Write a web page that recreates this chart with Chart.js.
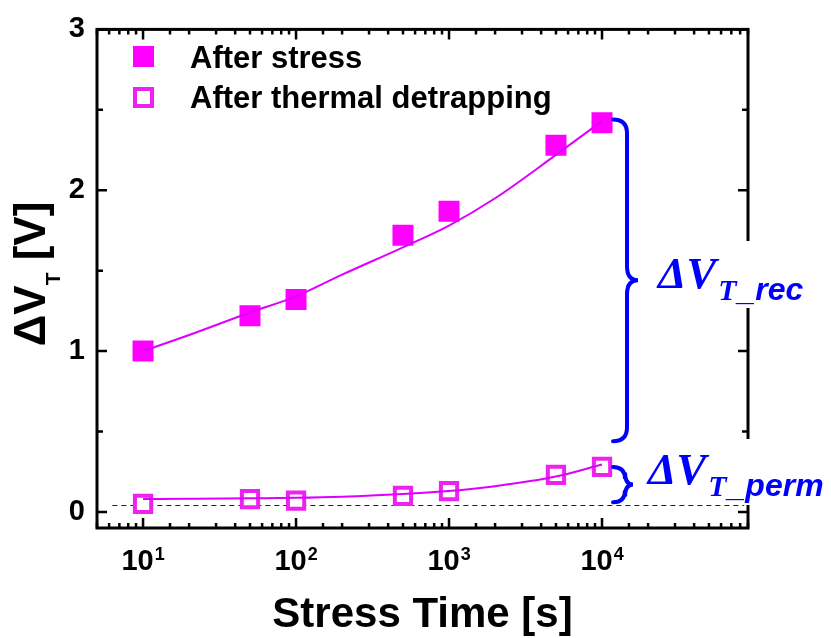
<!DOCTYPE html>
<html>
<head>
<meta charset="utf-8">
<script src="https://cdn.jsdelivr.net/npm/chart.js@4.4.0/dist/chart.umd.min.js"></script>
<style>
  html, body { margin: 0; padding: 0; background: #fff; }
  #wrap { width: 831px; height: 638px; }
</style>
</head>
<body>
<div id="wrap"><canvas id="grafico" width="831" height="638"></canvas></div>
<script>
// valores
const stressTime = [10, 50, 100, 500, 1000, 5000, 10000];
const afterStress = [1.00, 1.22, 1.32, 1.72, 1.87, 2.28, 2.42];
const afterDetrap = [0.05, 0.08, 0.07, 0.10, 0.13, 0.23, 0.28];

// curvas de ajuste (leídas a ojo)
const fitTime = [10, 20, 50, 100, 200, 500, 1000, 2000, 5000, 10000];
const fitStress = [1.00, 1.10, 1.24, 1.34, 1.475, 1.645, 1.78, 1.95, 2.22, 2.43];
const fitPerm = [0.08, 0.082, 0.085, 0.088, 0.095, 0.112, 0.13, 0.16, 0.22, 0.295];

// línea de referencia discontinua
const baseTime = [6.3, 85000];
const baseLevel = [0.04, 0.04];

const xTickValues = [10, 100, 1000, 10000];
const xTickExp = ['1', '2', '3', '4'];
const yTickValues = [0, 0.5, 1, 1.5, 2, 2.5, 3];
const legendLabels = ['After stress', 'After thermal detrapping'];

// llaves: [arriba, abajo] en voltios
const recSpan = [2.44, 0.44];
const permSpan = [0.28, 0.06];

const SANS = '"Liberation Sans", Arial, sans-serif';
const SERIF = '"Liberation Serif", "Times New Roman", serif';
const MAGENTA = '#FF00FF';
const OPEN = '#EE22EE';
const FIT = '#DD00FF';
const BLUE = '#0000FF';

const pts = (xs, ys) => xs.map((v, i) => ({ x: v, y: ys[i] }));

function brace(ctx, x0, yTop, yBot, depth, tip) {
  const xs = x0 + depth, ym = (yTop + yBot) / 2, r = depth;
  ctx.beginPath();
  ctx.moveTo(x0, yTop);
  ctx.quadraticCurveTo(xs, yTop, xs, yTop + r);
  ctx.lineTo(xs, ym - r);
  ctx.quadraticCurveTo(xs, ym, xs + tip, ym);
  ctx.quadraticCurveTo(xs, ym, xs, ym + r);
  ctx.lineTo(xs, yBot - r);
  ctx.quadraticCurveTo(xs, yBot, x0, yBot);
  ctx.stroke();
}

function deltaLabel(ctx, x, base, suffix) {
  ctx.fillStyle = BLUE;
  ctx.textBaseline = 'alphabetic';
  ctx.textAlign = 'left';
  ctx.font = 'italic bold 45px ' + SERIF;
  ctx.fillText('ΔV', x, base);
  x += ctx.measureText('ΔV').width + 2;
  ctx.font = 'italic bold 30px ' + SERIF;
  ctx.fillText('T', x, base + 12);
  x += ctx.measureText('T').width + 1;
  ctx.font = 'italic bold 32px ' + SANS;
  ctx.fillText(suffix, x, base + 12);
}

const decor = {
  id: 'decor',
  afterDraw(chart) {
    const { ctx, chartArea: a, scales: { x, y } } = chart;
    ctx.save();

    // marco
    ctx.strokeStyle = '#000';
    ctx.lineWidth = 3;
    ctx.strokeRect(a.left, a.top, a.right - a.left, a.bottom - a.top);

    // marcas del eje x (hacia dentro, abajo y arriba)
    ctx.lineWidth = 2.5;
    ctx.beginPath();
    x.ticks.forEach(t => {
      const px = x.getPixelForValue(t.value);
      const len = xTickValues.includes(t.value) ? 10 : 5;
      ctx.moveTo(px, a.bottom); ctx.lineTo(px, a.bottom - len);
      ctx.moveTo(px, a.top); ctx.lineTo(px, a.top + len);
    });
    // marcas del eje y
    y.ticks.forEach(t => {
      const py = y.getPixelForValue(t.value);
      const len = Number.isInteger(t.value) ? 10 : 6;
      ctx.moveTo(a.left, py); ctx.lineTo(a.left + len, py);
      ctx.moveTo(a.right, py); ctx.lineTo(a.right - len, py);
    });
    ctx.stroke();

    // etiquetas 10^n
    ctx.fillStyle = '#000';
    ctx.textBaseline = 'alphabetic';
    ctx.textAlign = 'left';
    xTickValues.forEach((v, i) => {
      const px = x.getPixelForValue(v);
      ctx.font = 'bold 29px ' + SANS;
      const w1 = ctx.measureText('10').width;
      ctx.font = 'bold 18px ' + SANS;
      const w2 = ctx.measureText(xTickExp[i]).width;
      const x0 = px - (w1 + w2 + 1) / 2;
      ctx.font = 'bold 29px ' + SANS;
      ctx.fillText('10', x0, 570);
      ctx.font = 'bold 18px ' + SANS;
      ctx.fillText(xTickExp[i], x0 + w1 + 1, 560);
    });

    // título x
    ctx.font = 'bold 42px ' + SANS;
    ctx.textAlign = 'center';
    ctx.fillText('Stress Time [s]', (a.left + a.right) / 2, 627);

    // título y (girado)
    ctx.save();
    ctx.translate(45, 274);
    ctx.rotate(-Math.PI / 2);
    ctx.textAlign = 'left';
    ctx.font = 'bold 44px ' + SANS;
    const wDV = ctx.measureText('ΔV').width;
    const wRest = ctx.measureText(' [V]').width;
    ctx.font = 'bold 21px ' + SANS;
    const wT = ctx.measureText('T').width;
    let cx = -(wDV + wT + wRest) / 2;
    ctx.font = 'bold 44px ' + SANS;
    ctx.fillText('ΔV', cx, 0);
    cx += wDV;
    ctx.font = 'bold 21px ' + SANS;
    ctx.fillText('T', cx, 15);
    cx += wT;
    ctx.font = 'bold 44px ' + SANS;
    ctx.fillText(' [V]', cx, 0);
    ctx.restore();

    // leyenda
    const ds = chart.data.datasets;
    ctx.fillStyle = ds[2].backgroundColor;
    ctx.fillRect(133, 46, 21, 21);
    ctx.fillStyle = '#fff';
    ctx.fillRect(135, 89, 17, 17);
    ctx.strokeStyle = ds[3].borderColor;
    ctx.lineWidth = 4;
    ctx.strokeRect(135, 89, 17, 17);
    ctx.fillStyle = '#000';
    ctx.font = 'bold 31px ' + SANS;
    ctx.textAlign = 'left';
    ctx.fillText(legendLabels[0], 190, 68);
    ctx.fillText(legendLabels[1], 190, 108);

    // llaves y anotaciones
    const bx = x.getPixelForValue(10000) + 11;
    ctx.strokeStyle = BLUE;
    ctx.lineWidth = 4;
    ctx.lineCap = 'round';
    const r0 = y.getPixelForValue(recSpan[0]), r1 = y.getPixelForValue(recSpan[1]);
    brace(ctx, bx, r0, r1, 14, 11);
    const p0 = y.getPixelForValue(permSpan[0]), p1 = y.getPixelForValue(permSpan[1]);
    brace(ctx, bx, p0, p1, 12, 8);

    ctx.fillStyle = '#fff';
    ctx.fillRect(650, 241, 175, 67);
    ctx.fillRect(640, 439, 191, 66);
    deltaLabel(ctx, 658, (r0 + r1) / 2 + 8, '_rec');
    deltaLabel(ctx, 648, (p0 + p1) / 2 - 1, '_perm');

    ctx.restore();
  }
};

new Chart(document.getElementById('grafico'), {
  type: 'scatter',
  data: {
    datasets: [
      {
        label: 'fit stress',
        data: pts(fitTime, fitStress),
        showLine: true,
        borderColor: FIT,
        borderWidth: 2,
        pointRadius: 0,
        cubicInterpolationMode: 'monotone',
        fill: false
      },
      {
        label: 'fit perm',
        data: pts(fitTime, fitPerm),
        showLine: true,
        borderColor: FIT,
        borderWidth: 2,
        pointRadius: 0,
        cubicInterpolationMode: 'monotone',
        fill: false
      },
      {
        label: legendLabels[0],
        data: pts(stressTime, afterStress),
        pointStyle: 'rect',
        pointRadius: 14.85,
        backgroundColor: MAGENTA,
        borderWidth: 0
      },
      {
        label: legendLabels[1],
        data: pts(stressTime, afterDetrap),
        pointStyle: 'rect',
        pointRadius: 11.5,
        backgroundColor: '#fff',
        borderColor: OPEN,
        borderWidth: 4
      },
      {
        label: 'base',
        data: pts(baseTime, baseLevel),
        showLine: true,
        borderColor: '#222',
        borderWidth: 1.2,
        borderDash: [5, 4],
        pointRadius: 0
      }
    ]
  },
  options: {
    responsive: false,
    animation: false,
    events: [],
    layout: { padding: { top: 22, right: 83, left: 0, bottom: 0 } },
    plugins: {
      legend: { display: false },
      tooltip: { enabled: false }
    },
    scales: {
      x: {
        type: 'logarithmic',
        min: 5,
        max: 90000,
        bounds: 'data',
        grid: { display: false, drawTicks: false },
        border: { display: false },
        ticks: { display: false },
        afterFit: s => { s.height = 110; }
      },
      y: {
        type: 'linear',
        min: -0.1,
        max: 3,
        bounds: 'data',
        grid: { display: false, drawTicks: false },
        border: { display: false },
        ticks: {
          autoSkip: false,
          padding: 12,
          color: '#000',
          font: { family: SANS, size: 29, weight: 'bold' },
          callback: v => Number.isInteger(v) ? String(v) : ''
        },
        afterBuildTicks: s => { s.ticks = yTickValues.map(v => ({ value: v })); },
        afterFit: s => { s.width = 97; }
      }
    }
  },
  plugins: [decor]
});
</script>
</body>
</html>
